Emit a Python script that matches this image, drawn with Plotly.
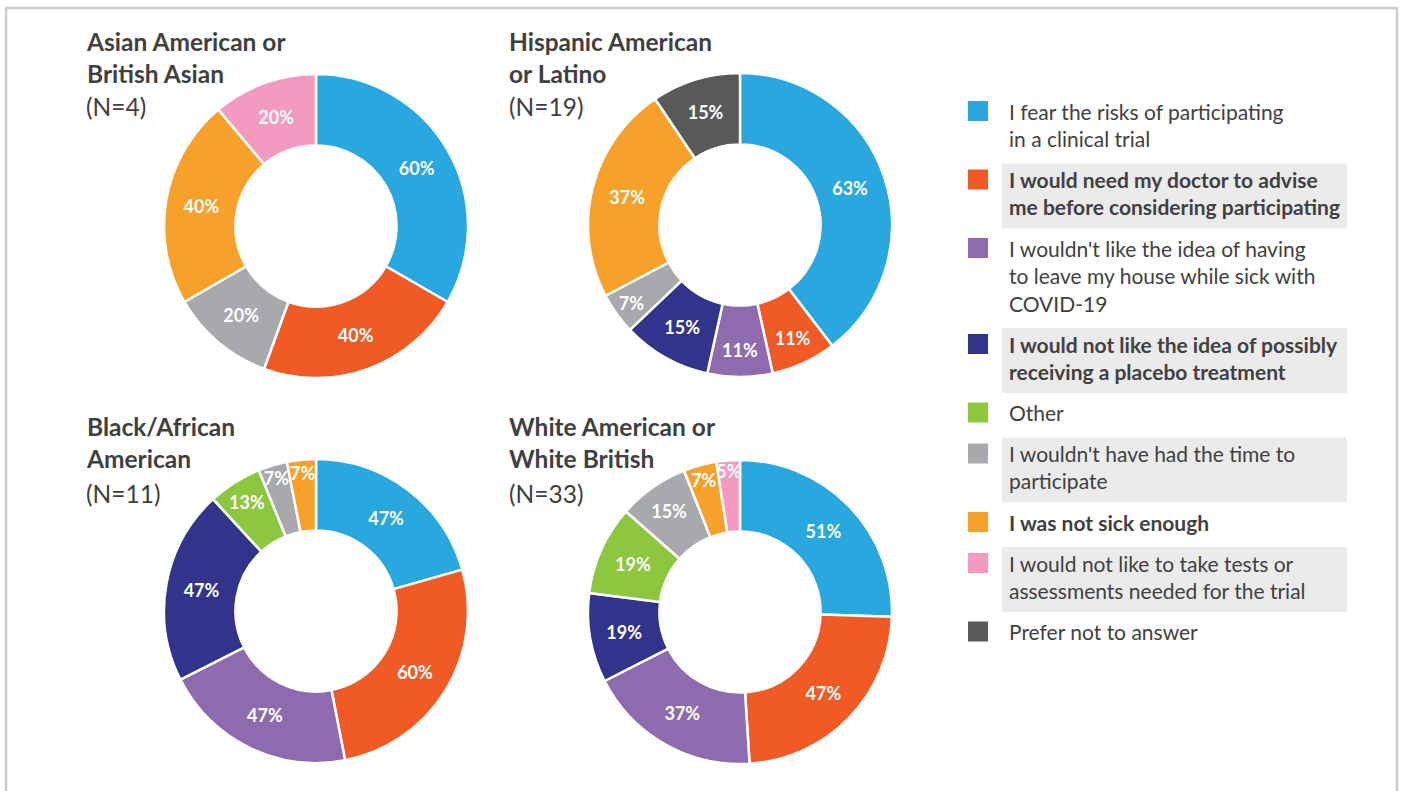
import plotly.graph_objects as go

W, H = 1401, 791

# ---------------- data ----------------
categories = [
    "I fear the risks of participating<br>in a clinical trial",
    "I would need my doctor to advise<br>me before considering participating",
    "I wouldn't like the idea of having<br>to leave my house while sick with<br>COVID-19",
    "I would not like the idea of possibly<br>receiving a placebo treatment",
    "Other",
    "I wouldn't have had the time to<br>participate",
    "I was not sick enough",
    "I would not like to take tests or<br>assessments needed for the trial",
    "Prefer not to answer",
]
colors = ["#29A8E0", "#F15A24", "#8E6BAF", "#32348C", "#8DC63F",
          "#A7A9AC", "#F7A12B", "#F49AC1", "#58595B"]

group_titles = [
    "Asian American or<br>British Asian",
    "Hispanic American<br>or Latino",
    "Black/African<br>American",
    "White American or<br>White British",
]
group_n = ["(N=4)", "(N=19)", "(N=11)", "(N=33)"]

# percentages per category index (None = not present)
asian =    [60, 40, None, None, None, 20, 40, 20, None]
hispanic = [63, 11, 11, 15, None, 7, 37, None, 15]
black =    [47, 60, 47, 47, 13, 7, 7, None, None]
white =    [51, 47, 37, 19, 19, 15, 7, 5, None]
group_values = [asian, hispanic, black, white]

legend_bold = [False, True, False, True, False, False, True, False, False]
legend_band = [False, True, False, True, False, True, False, True, False]

# ---------------- layout helpers ----------------
FONT = "Lato, Roboto, Liberation Sans, Arial"
TXT = "#414042"

def px(x):
    return x / W

def py(y):
    return 1 - y / H

# donut centers/radius in pixels (layout)
centers = [(316, 226), (740, 225), (316, 611), (740, 612)]
R = 152
title_x = [84, 507, 84, 507]
title_y = [(57, 106), (57, 106), (442, 493), (442, 493)]

fig = go.Figure()
shapes = []
annotations = []

for g, vals in enumerate(group_values):
    labs, vs, cols = [], [], []
    for i, v in enumerate(vals):
        if v is not None:
            labs.append(categories[i])
            vs.append(v)
            cols.append(colors[i])
    cx, cy = centers[g]
    fig.add_trace(go.Pie(
        labels=labs, values=vs, sort=False, direction="clockwise", rotation=0,
        hole=0.53,
        marker=dict(colors=cols, line=dict(color="white", width=2.5)),
        texttemplate="%{value}%", textposition="inside",
        insidetextorientation="horizontal",
        textfont=dict(family=FONT, size=18, color="white", weight="bold"),
        domain=dict(x=[px(cx - R), px(cx + R)], y=[py(cy + R), py(cy - R)]),
        showlegend=False, hoverinfo="label+value",
    ))
    # titles
    ty, ny = title_y[g]
    annotations.append(dict(
        x=px(title_x[g]), y=py(ty), xref="paper", yref="paper",
        xanchor="left", yanchor="middle", align="left", showarrow=False,
        text=group_titles[g], font=dict(family=FONT, size=24.5, color="#404041", weight="bold"),
    ))
    annotations.append(dict(
        x=px(title_x[g]), y=py(ny), xref="paper", yref="paper",
        xanchor="left", yanchor="middle", align="left", showarrow=False,
        text=group_n[g], font=dict(family=FONT, size=24.5, color="#404041"),
    ))

# ---------------- custom legend ----------------
top = 101
for i, lab in enumerate(categories):
    n = lab.count("<br>") + 1
    if legend_band[i]:
        shapes.append(dict(type="rect", xref="paper", yref="paper",
                           x0=px(1002), x1=px(1347), y0=py(top - 6), y1=py(top - 6 + 27.5 * n + 10),
                           fillcolor="#EBEBEB", line=dict(width=0), layer="below"))
    shapes.append(dict(type="rect", xref="paper", yref="paper",
                       x0=px(968), x1=px(988), y0=py(top), y1=py(top + 20),
                       fillcolor=colors[i], line=dict(width=0)))
    annotations.append(dict(
        x=px(1007), y=py(top + 10 + 27.5 * (n - 1) / 2), xref="paper", yref="paper",
        xanchor="left", yanchor="middle", align="left", showarrow=False,
        text=lab, font=dict(family=FONT, size=21, color=TXT,
                            weight="bold" if legend_bold[i] else "normal"),
    ))
    top = top + 13.5 + 27.5 * n

# outer border
shapes.append(dict(type="rect", xref="paper", yref="paper",
                   x0=px(6), x1=px(1397), y0=-0.05, y1=py(8),
                   line=dict(color="#CCCCCC", width=2.5), fillcolor="rgba(0,0,0,0)"))

fig.update_layout(
    width=W, height=H, margin=dict(l=0, r=0, t=0, b=0),
    paper_bgcolor="white", plot_bgcolor="white",
    shapes=shapes, annotations=annotations,
    font=dict(family=FONT, color=TXT),
    uniformtext=dict(minsize=18, mode="show"),
)

fig.write_html("out.html", config={"displayModeBar": False},
               post_script="document.body.style.margin='0';")
